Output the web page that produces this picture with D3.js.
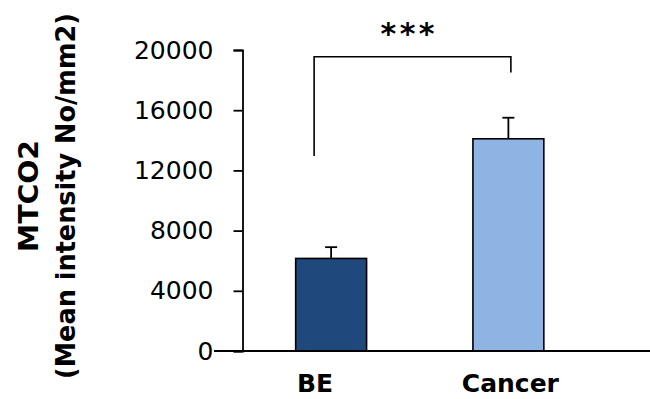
<!DOCTYPE html>
<html>
<head>
<meta charset="utf-8">
<script src="https://cdn.jsdelivr.net/npm/d3@7/dist/d3.min.js"></script>
<style>
  html, body { margin: 0; padding: 0; background: #fff; }
  svg { display: block; }
</style>
</head>
<body>
<svg id="chart" width="650" height="399"></svg>
<script>
// Mean MTCO2 intensity (No/mm2) per tissue group, with upper error bars
const categories = ["BE", "Cancer"];
const means = [6150, 14100];
const errors = [750, 1400];
const barColors = ["#1F497D", "#8EB4E3"];
const yTicks = [0, 4000, 8000, 12000, 16000, 20000];
const yTitleLines = ["MTCO2", "(Mean intensity No/mm2)"];
const significance = "***";
// comparison bracket: top level and the two leg ends, in data units
const bracketTop = 19550;
const bracketEnds = [12950, 18500];

const svg = d3.select("#chart");
const font = "'DejaVu Sans', sans-serif";

const y = d3.scaleLinear().domain([0, 20000]).range([351, 50]);
const x = d3.scaleBand()
  .domain(categories)
  .range([242.5, 597])
  .paddingInner(0.6)
  .paddingOuter(0.3);
const cx = d => x(d) + x.bandwidth() / 2;

// soft shadow under the category axis
const defs = svg.append("defs");
defs.append("filter").attr("id", "axisShadow")
  .attr("x", "-5%").attr("y", "-200%").attr("width", "110%").attr("height", "500%")
  .append("feGaussianBlur").attr("stdDeviation", 1.8);

svg.append("line")
  .attr("x1", 214).attr("x2", 650)
  .attr("y1", y(0) + 4).attr("y2", y(0) + 4)
  .attr("stroke", "#b8b8b8").attr("stroke-width", 4)
  .attr("filter", "url(#axisShadow)");

// bars
svg.append("g").selectAll("rect")
  .data(categories)
  .join("rect")
  .attr("x", d => x(d))
  .attr("width", x.bandwidth())
  .attr("y", (d, i) => y(means[i]))
  .attr("height", (d, i) => y(0) - y(means[i]))
  .attr("fill", (d, i) => barColors[i])
  .attr("stroke", "#000")
  .attr("stroke-width", 1.6);

// error bars (upper only)
const capHalf = 6;
const eb = svg.append("g").attr("stroke", "#000").attr("stroke-width", 1.8);
eb.selectAll("line.stem")
  .data(categories)
  .join("line").attr("class", "stem")
  .attr("x1", d => cx(d)).attr("x2", d => cx(d))
  .attr("y1", (d, i) => y(means[i]))
  .attr("y2", (d, i) => y(means[i] + errors[i]));
eb.selectAll("line.cap")
  .data(categories)
  .join("line").attr("class", "cap")
  .attr("x1", d => cx(d) - capHalf).attr("x2", d => cx(d) + capHalf)
  .attr("y1", (d, i) => y(means[i] + errors[i]))
  .attr("y2", (d, i) => y(means[i] + errors[i]));

// y axis
const yAxis = svg.append("g")
  .attr("transform", "translate(242.5,0)")
  .call(d3.axisLeft(y).tickValues(yTicks).tickSize(9).tickPadding(20).tickFormat(d3.format("d")));
yAxis.selectAll("path, line").attr("stroke", "#000").attr("stroke-width", 1.8);
yAxis.selectAll("text")
  .attr("font-family", font)
  .attr("font-size", 25)
  .attr("fill", "#000");

// category axis line
svg.append("line")
  .attr("x1", 214).attr("x2", 650)
  .attr("y1", y(0)).attr("y2", y(0))
  .attr("stroke", "#000").attr("stroke-width", 1.8);

// category labels
const labelShift = [-16, 2];
svg.append("g").selectAll("text")
  .data(categories)
  .join("text")
  .attr("x", (d, i) => cx(d) + labelShift[i])
  .attr("y", 392)
  .attr("text-anchor", "middle")
  .attr("font-family", font)
  .attr("font-weight", "bold")
  .attr("font-size", 25)
  .attr("fill", "#000")
  .text(d => d);

// y axis title
const titleX = [38, 75];
const titleLen = [112, 366];
svg.append("g").selectAll("text")
  .data(yTitleLines)
  .join("text")
  .attr("transform", (d, i) => `translate(${titleX[i]},196) rotate(-90)`)
  .attr("text-anchor", "middle")
  .attr("font-family", font)
  .attr("font-weight", "bold")
  .attr("font-size", 26)
  .attr("textLength", (d, i) => titleLen[i])
  .attr("lengthAdjust", "spacingAndGlyphs")
  .attr("fill", "#000")
  .text(d => d);

// significance bracket
const bx1 = cx(categories[0]) - 17;
const bx2 = cx(categories[1]) + 2.5;
svg.append("path")
  .attr("d", d3.line()([
    [bx1, y(bracketEnds[0])],
    [bx1, y(bracketTop)],
    [bx2, y(bracketTop)],
    [bx2, y(bracketEnds[1])]
  ]))
  .attr("fill", "none")
  .attr("stroke", "#000")
  .attr("stroke-width", 1.6);

svg.append("text")
  .attr("x", (bx1 + bx2) / 2 - 5)
  .attr("y", 44)
  .attr("text-anchor", "middle")
  .attr("font-family", font)
  .attr("font-weight", "bold")
  .attr("font-size", 30)
  .attr("textLength", 54)
  .attr("lengthAdjust", "spacing")
  .attr("fill", "#000")
  .text(significance);
</script>
</body>
</html>
